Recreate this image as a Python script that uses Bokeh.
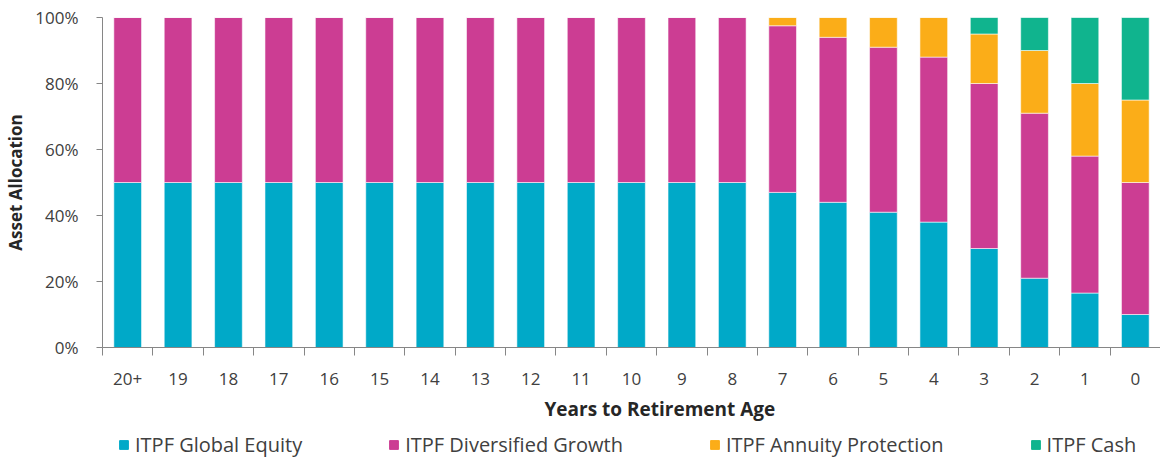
from bokeh.plotting import figure
from bokeh.layouts import column
from bokeh.models import (ColumnDataSource, Range1d, FixedTicker, PrintfTickFormatter,
                          Legend, LegendItem, Title)
from bokeh.embed import file_html
from bokeh.resources import INLINE

categories = ["20+", "19", "18", "17", "16", "15", "14", "13", "12", "11", "10",
              "9", "8", "7", "6", "5", "4", "3", "2", "1", "0"]
global_equity = [50, 50, 50, 50, 50, 50, 50, 50, 50, 50, 50,
                 50, 50, 47, 44, 41, 38, 30, 21, 16.5, 10]
diversified_growth = [50, 50, 50, 50, 50, 50, 50, 50, 50, 50, 50,
                      50, 50, 50.5, 50, 50, 50, 50, 50, 41.5, 40]
annuity_protection = [0, 0, 0, 0, 0, 0, 0, 0, 0, 0, 0,
                      0, 0, 2.5, 6, 9, 12, 15, 19, 22, 25]
cash = [0, 0, 0, 0, 0, 0, 0, 0, 0, 0, 0,
        0, 0, 0, 0, 0, 0, 5, 10, 20, 25]

series_names = ["ITPF Global Equity", "ITPF Diversified Growth",
                "ITPF Annuity Protection", "ITPF Cash"]
colors = ["#00A9C8", "#CC3D93", "#FBAD18", "#10B48E"]

FONT = "Open Sans"
TXT = "#404040"

x_idx = list(range(len(categories)))
source = ColumnDataSource(dict(
    x=x_idx,
    eq=global_equity,
    dg=diversified_growth,
    ap=annuity_protection,
    cs=cash,
))
stack_cols = ["eq", "dg", "ap", "cs"]

p = figure(width=1160, height=428, output_backend="svg", toolbar_location=None,
           x_range=Range1d(-0.5, len(categories) - 0.5), y_range=Range1d(0, 100),
           min_border_left=102, min_border_right=0, min_border_top=17,
           min_border_bottom=77, title=None)
p.outline_line_color = None
p.xgrid.visible = False
p.ygrid.visible = False
p.background_fill_color = "white"
p.border_fill_color = "white"

renderers = p.vbar_stack(stack_cols, x="x", width=0.55, color=colors,
                         line_color="white", line_width=0.8, line_alpha=0.7,
                         source=source)

# Y axis
ya = p.yaxis[0]
ya.ticker = FixedTicker(ticks=[0, 20, 40, 60, 80, 100])
ya.formatter = PrintfTickFormatter(format="%d%%")
ya.axis_line_color = "#868686"
ya.major_tick_line_color = "#868686"
ya.major_tick_out = 6
ya.major_tick_in = 0
ya.minor_tick_line_color = None
ya.major_label_standoff = 18
ya.major_label_text_font = FONT
ya.major_label_text_font_size = "17px"
ya.major_label_text_color = TXT
ya.axis_label = "Asset Allocation"
ya.axis_label_text_font = FONT
ya.axis_label_text_font_size = "17px"
ya.axis_label_text_font_style = "bold"
ya.axis_label_text_color = "#262626"
ya.axis_label_standoff = 5

# X axis
xa = p.xaxis[0]
xa.ticker = FixedTicker(ticks=x_idx, minor_ticks=[i - 0.5 for i in range(len(categories) + 1)])
xa.major_label_overrides = {i: c for i, c in enumerate(categories)}
xa.axis_line_color = "#868686"
xa.major_tick_out = 0
xa.major_tick_in = 0
xa.major_tick_line_color = None
xa.minor_tick_line_color = "#868686"
xa.minor_tick_out = 8
xa.minor_tick_in = 0
xa.major_label_standoff = 17
xa.major_label_text_font = FONT
xa.major_label_text_font_size = "17px"
xa.major_label_text_color = TXT

p.add_layout(Title(text="Years to Retirement Age", align="left", offset=442,
                   text_font=FONT, text_font_size="19px", text_font_style="bold",
                   text_color="#262626", standoff=13), "below")

# Legend strip: a second figure whose view range excludes the bars, so only the legend shows
leg = figure(width=1160, height=30, output_backend="svg", toolbar_location=None,
             x_range=Range1d(1000, 1001), y_range=Range1d(1000, 1001),
             x_axis_location=None, y_axis_location=None,
             min_border_left=0, min_border_right=0, min_border_top=0, min_border_bottom=0,
             title=None)
leg.outline_line_color = None
leg.xgrid.visible = False
leg.ygrid.visible = False
leg_renderers = leg.vbar_stack(stack_cols, x="x", width=0.55, color=colors, source=source)

legend = Legend(items=[LegendItem(label=n, renderers=[r]) for n, r in zip(series_names, leg_renderers)],
                orientation="horizontal", location=(16, 0), spacing=86,
                glyph_width=11, glyph_height=11, label_standoff=6,
                padding=0, margin=0, border_line_color=None,
                background_fill_alpha=0, label_text_font=FONT,
                label_text_font_size="20px", label_text_color=TXT)
leg.add_layout(legend, "center")

layout = column(p, leg, spacing=0)
open("out.html", "w").write(file_html(layout, INLINE))
